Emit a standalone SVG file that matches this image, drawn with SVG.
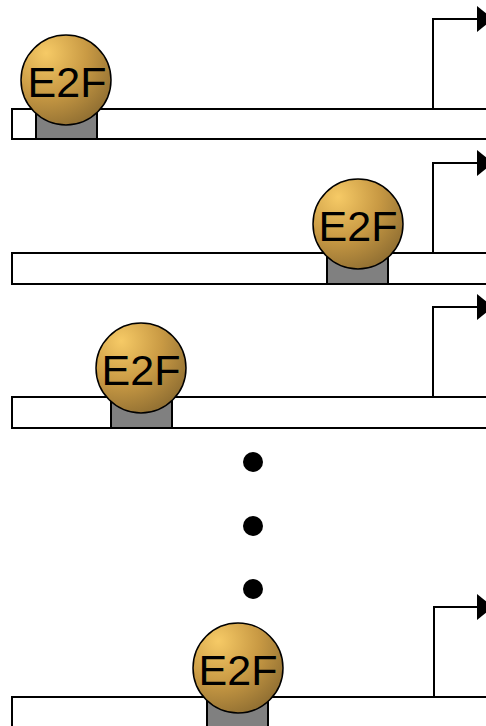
<svg xmlns="http://www.w3.org/2000/svg" width="486" height="726" viewBox="0 0 486 726">
  <defs>
    <radialGradient id="gold" cx="0.28" cy="0.22" r="0.9" fx="0.28" fy="0.2">
      <stop offset="0" stop-color="#f6ca66"/>
      <stop offset="0.5" stop-color="#c99a44"/>
      <stop offset="1" stop-color="#8a6a30"/>
    </radialGradient>
    <marker id="head" viewBox="0 0 16 26" refX="1" refY="13" markerWidth="16" markerHeight="26" markerUnits="userSpaceOnUse" orient="auto">
      <path d="M0,0 L16,13 L0,26 Z" fill="#000"/>
    </marker>
  </defs>
  <style>
    .dna { fill: #fff; stroke: #000; stroke-width: 2; }
    .site { fill: #808080; stroke: #000; stroke-width: 2; }
    .prot { fill: url(#gold); stroke: #000; stroke-width: 1.5; }
    .lbl { font-family: "Liberation Sans", Arial, sans-serif; font-size: 43px; fill: #000; text-anchor: middle; }
    .tss { fill: none; stroke: #000; stroke-width: 2; marker-end: url(#head); }
    .dot { fill: #000; }
  </style>

  <!-- DNA strands -->
  <g id="dna-strands">
    <rect class="dna" x="12" y="109" width="490" height="30"/>
    <rect class="dna" x="12" y="253" width="490" height="31"/>
    <rect class="dna" x="12" y="397" width="490" height="31"/>
    <rect class="dna" x="12" y="697" width="490" height="31"/>
  </g>

  <!-- transcription start arrows -->
  <g id="connectors">
    <path class="tss" d="M433,109 V19 H478"/>
    <path class="tss" d="M433,253 V163 H478"/>
    <path class="tss" d="M433,397 V307 H478"/>
    <path class="tss" d="M434,697 V607 H478"/>
  </g>

  <!-- E2F bound at different sites -->
  <g id="e2f-1">
    <rect class="site" x="36" y="109" width="61" height="30"/>
    <circle class="prot" cx="66" cy="80" r="45"/>
    <text class="lbl" x="67" y="97">E2F</text>
  </g>
  <g id="e2f-2">
    <rect class="site" x="327" y="253" width="61" height="31"/>
    <circle class="prot" cx="358" cy="224" r="45"/>
    <text class="lbl" x="358" y="241">E2F</text>
  </g>
  <g id="e2f-3">
    <rect class="site" x="111" y="397" width="61" height="31"/>
    <circle class="prot" cx="141" cy="368" r="45"/>
    <text class="lbl" x="141" y="385">E2F</text>
  </g>
  <g id="e2f-4">
    <rect class="site" x="207" y="697" width="61" height="31"/>
    <circle class="prot" cx="238" cy="668" r="45"/>
    <text class="lbl" x="238" y="685">E2F</text>
  </g>

  <!-- ellipsis -->
  <g id="ellipsis">
    <circle class="dot" cx="253" cy="462" r="10"/>
    <circle class="dot" cx="253" cy="526" r="10"/>
    <circle class="dot" cx="253" cy="589" r="10"/>
  </g>
</svg>
